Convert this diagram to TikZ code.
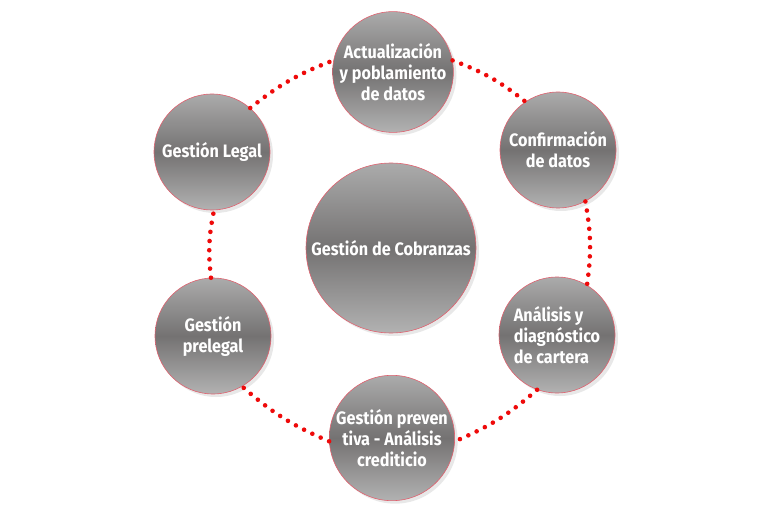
\documentclass[tikz,border=0pt]{standalone}
\usepackage{fontspec}
\setmainfont{Fira Sans}[FakeStretch=0.9]
\usetikzlibrary{shadows}
\definecolor{circtop}{HTML}{ABABAB}
\definecolor{circmid}{HTML}{747272}
\definecolor{circbot}{HTML}{B2B2B2}
\definecolor{circrim}{HTML}{E0606E}
\definecolor{dotred}{HTML}{EE0A0A}
\begin{document}
\begin{tikzpicture}[x=1pt, y=1pt,
  ball/.style={circle, draw=circrim, line width=0.6pt, minimum size=116pt, inner sep=0pt,
    top color=circtop, bottom color=circbot, middle color=circmid,
    drop shadow={shadow xshift=3pt, shadow yshift=-3pt, opacity=0.18},
    text=white, font=\bfseries\fontsize{18}{21}\selectfont, align=center},
  dots/.style={dotred, line width=4.6pt, line cap=round, dash pattern=on 0pt off 9.2pt, bend left=9}]
\useasboundingbox (0,0) rectangle (768,512);
\node[ball, minimum size=170pt] (cob) at (391,264) {Gestión de Cobranzas};
\node[ball] (act) at (393,440) {Actualización\\y poblamiento\\de datos};
\node[ball] (conf) at (558,362) {Confirmación\\de datos};
\node[ball, align=left] (anal) at (557,177) {Análisis y\\diagnóstico\\de cartera};
\node[ball, minimum size=118pt] (prev) at (392,74) {Gestión preven\\tiva - Análisis\\crediticio};
\node[ball] (prel) at (213,176) {Gestión\\prelegal};
\node[ball] (legal) at (212,360) {Gestión Legal};

\draw[dots] (legal.49) to (act.169);
\draw[dots] (act.11) to (conf.124);
\draw[dots] (conf.-62) to (anal.59);
\draw[dots] (anal.250) to (prev.-3);
\draw[dots] (prev.183) to (prel.-60);
\draw[dots] (prel.92) to (legal.-88);
\end{tikzpicture}
\end{document}
